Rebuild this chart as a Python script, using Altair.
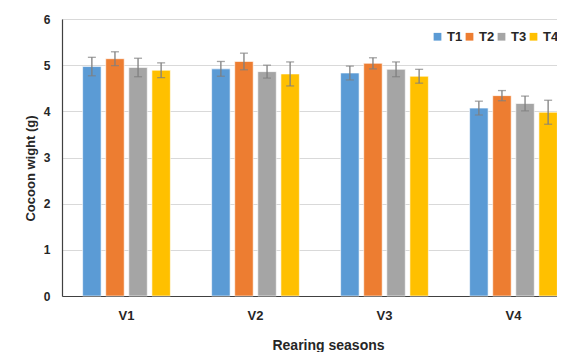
import altair as alt
import pandas as pd

seasons = ["V1", "V2", "V3", "V4"]
treatments = ["T1", "T2", "T3", "T4"]
values = [
    [4.97, 5.14, 4.95, 4.89],
    [4.92, 5.08, 4.86, 4.81],
    [4.83, 5.04, 4.91, 4.76],
    [4.07, 4.34, 4.17, 3.98],
]
errors = [
    [0.20, 0.15, 0.20, 0.16],
    [0.16, 0.18, 0.14, 0.26],
    [0.15, 0.12, 0.16, 0.15],
    [0.15, 0.11, 0.16, 0.26],
]
colors = ["#5B9BD5", "#ED7D31", "#A5A5A5", "#FFC000"]

rows = []
for i, s in enumerate(seasons):
    for j, t in enumerate(treatments):
        v = values[i][j]
        e = errors[i][j]
        rows.append({"season": s, "treat": t, "value": v, "lo": v - e, "hi": v + e})
df = pd.DataFrame(rows)

FONT = "Liberation Sans"

x = alt.X("season:N", sort=seasons,
          scale=alt.Scale(paddingInner=0.32, paddingOuter=0.16),
          axis=alt.Axis(title="Rearing seasons", labelAngle=0, ticks=False,
                        labelFontSize=13, labelFontWeight="bold", labelColor="#262626",
                        labelPadding=13, titleFontSize=14, titleFontWeight="bold",
                        titleColor="#262626", titlePadding=16, titleX=266,
                        domainColor="#404040", domainWidth=1.2))
xo = alt.XOffset("treat:N", sort=treatments, scale=alt.Scale(paddingInner=0.2))

bars = alt.Chart(df).mark_bar(stroke="white", strokeWidth=1, strokeOpacity=0.6).encode(
    x=x,
    xOffset=xo,
    y=alt.Y("value:Q", scale=alt.Scale(domain=[0, 6]),
            axis=alt.Axis(title="Cocoon wight (g)", values=[0, 1, 2, 3, 4, 5, 6],
                          ticks=False, labelFontSize=12, labelFontWeight="bold",
                          labelColor="#262626", labelPadding=12,
                          titleFontSize=13, titleFontWeight="bold", titleColor="#262626",
                          titleX=-25, titleY=149, titleAngle=270,
                          gridColor="#D9D9D9", domainColor="#404040",
                          domainWidth=1.2)),
    color=alt.Color("treat:N", sort=treatments,
                    scale=alt.Scale(domain=treatments, range=colors),
                    legend=alt.Legend(title=None, orient="none", direction="horizontal",
                                      columns=4, legendX=369, legendY=11,
                                      symbolType="square", symbolSize=60,
                                      symbolStrokeWidth=0, labelFontSize=13,
                                      labelFontWeight="bold", labelColor="#262626",
                                      labelOffset=3, columnPadding=0)),
)

err = alt.Chart(df).mark_rule(color="#7F7F7F", strokeWidth=1.3).encode(
    x=x, xOffset=xo, y="lo:Q", y2="hi:Q")
cap_hi = alt.Chart(df).mark_tick(color="#7F7F7F", thickness=1.3, size=8, orient="horizontal").encode(
    x=x, xOffset=xo, y="hi:Q")
cap_lo = alt.Chart(df).mark_tick(color="#7F7F7F", thickness=1.3, size=8, orient="horizontal").encode(
    x=x, xOffset=xo, y="lo:Q")

chart = alt.layer(bars, err, cap_hi, cap_lo).properties(
    width=516, height=277,
    autosize=alt.AutoSizeParams(type="none"),
    padding={"left": 54, "top": 11, "right": -21, "bottom": 56},
).configure_view(stroke="#8C8C8C", strokeWidth=1.5).configure(font=FONT)

chart.save("out.html", embed_options={"renderer": "svg", "actions": False})
